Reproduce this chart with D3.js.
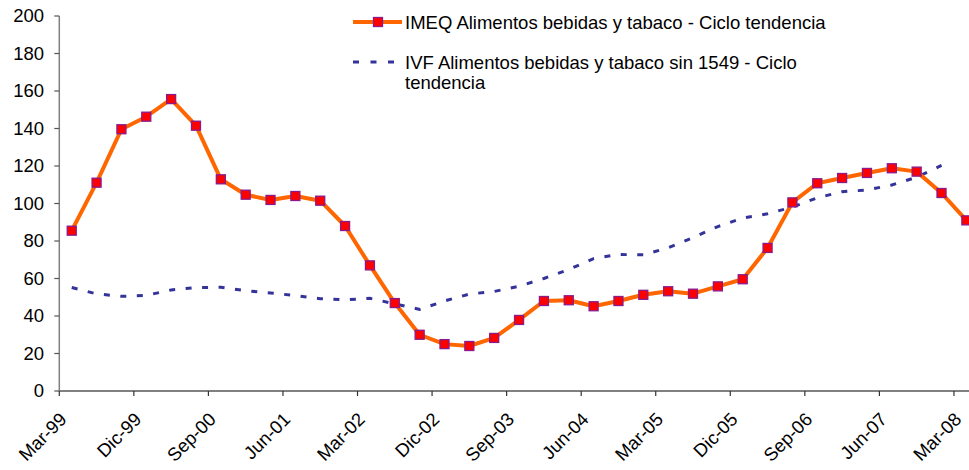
<!DOCTYPE html>
<html>
<head>
<meta charset="utf-8">
<script src="https://cdn.jsdelivr.net/npm/d3@7"></script>
<style>
  body { margin: 0; background: #fff; }
  text { font-family: Arial, "Liberation Sans", sans-serif; fill: #000; }
</style>
</head>
<body>
<div id="chart"></div>
<script>
// quarterly categories, Mar-99 .. Mar-08
const quarters = [
  "Mar-99", "Jun-99", "Sep-99", "Dic-99", "Mar-00", "Jun-00", "Sep-00", "Dic-00",
  "Mar-01", "Jun-01", "Sep-01", "Dic-01", "Mar-02", "Jun-02", "Sep-02", "Dic-02",
  "Mar-03", "Jun-03", "Sep-03", "Dic-03", "Mar-04", "Jun-04", "Sep-04", "Dic-04",
  "Mar-05", "Jun-05", "Sep-05", "Dic-05", "Mar-06", "Jun-06", "Sep-06", "Dic-06",
  "Mar-07", "Jun-07", "Sep-07", "Dic-07", "Mar-08"
];
const imeq = [85.5, 111.1, 139.6, 146.3, 155.7, 141.5, 112.9, 104.7, 101.9, 104, 101.5, 88,
  67, 46.9, 30, 25, 24, 28.3, 37.9, 48, 48.4, 45.2, 48, 51.3, 53.2, 51.9, 55.8, 59.6,
  76.3, 100.6, 110.8, 113.6, 116.3, 118.8, 117, 105.6, 91];
const ivf = [55.2, 51.8, 50.5, 51, 53.9, 55.2, 55.3, 53.5, 52.3, 50.9, 49.2, 48.6,
  49.4, 46.5, 43.5, 48, 51.7, 53.1, 55.9, 60, 64.8, 70.6, 72.8, 72.6, 76.4, 81.8,
  87.7, 92.2, 94.5, 98.1, 103, 106.3, 107.2, 109.9, 114, 120.3];
const yTicks = [0, 20, 40, 60, 80, 100, 120, 140, 160, 180, 200];
const seriesNames = [
  "IMEQ Alimentos bebidas y tabaco - Ciclo tendencia",
  "IVF Alimentos bebidas y tabaco sin 1549 - Ciclo",
  "tendencia"
];

const width = 969, height = 470;
const fontSize = "18.5px";

const svg = d3.select("#chart").append("svg")
  .attr("width", width)
  .attr("height", height);

// plot area runs past the right edge, like the original crop
const x = d3.scaleBand().domain(quarters).range([59.3, 978.8]);
const y = d3.scaleLinear().domain([0, 200]).range([391, 16]);
const cx = (d) => x(d) + x.bandwidth() / 2;

// y axis
svg.append("line")
  .attr("x1", x.range()[0]).attr("x2", x.range()[0])
  .attr("y1", y(200)).attr("y2", y(0))
  .attr("stroke", "#808080").attr("stroke-width", 1.5);
svg.selectAll(".ytick").data(yTicks).join("line")
  .attr("x1", x.range()[0] - 5).attr("x2", x.range()[0])
  .attr("y1", (d) => y(d)).attr("y2", (d) => y(d))
  .attr("stroke", "#555").attr("stroke-width", 1.2);
svg.selectAll(".ylab").data(yTicks).join("text")
  .attr("x", 44)
  .attr("y", (d) => y(d))
  .attr("dy", "0.35em")
  .attr("text-anchor", "end")
  .style("font-size", fontSize)
  .text((d) => d);

// x axis
svg.append("line")
  .attr("x1", x.range()[0]).attr("x2", width)
  .attr("y1", y(0)).attr("y2", y(0))
  .attr("stroke", "#808080").attr("stroke-width", 2);
const labeled = quarters.filter((d, i) => i % 3 === 0);
svg.selectAll(".xtick").data(labeled).join("line")
  .attr("x1", (d) => x(d)).attr("x2", (d) => x(d))
  .attr("y1", y(0)).attr("y2", y(0) + 5)
  .attr("stroke", "#333").attr("stroke-width", 1.2);
svg.selectAll(".xlab").data(labeled).join("text")
  .attr("text-anchor", "end")
  .attr("dy", "0.35em")
  .attr("transform", (d) => `translate(${x(d) + 4},${y(0) + 25}) rotate(-45)`)
  .style("font-size", fontSize)
  .text((d) => d);

// IVF dashed
const lineIvf = d3.line()
  .x((d, i) => cx(quarters[i]))
  .y((d) => y(d));
svg.append("path")
  .datum(ivf)
  .attr("d", lineIvf)
  .attr("fill", "none")
  .attr("stroke", "#333399")
  .attr("stroke-width", 3)
  .attr("stroke-dasharray", "6,10.5");

// IMEQ line + markers
const lineImeq = d3.line()
  .x((d, i) => cx(quarters[i]))
  .y((d) => y(d));
svg.append("path")
  .datum(imeq)
  .attr("d", lineImeq)
  .attr("fill", "none")
  .attr("stroke", "#FF6600")
  .attr("stroke-width", 4)
  .attr("stroke-linejoin", "round");
svg.selectAll(".mk").data(imeq).join("rect")
  .attr("x", (d, i) => cx(quarters[i]) - 4.5)
  .attr("y", (d) => y(d) - 4.5)
  .attr("width", 9).attr("height", 9)
  .attr("fill", "#FF0000")
  .attr("stroke", "#8B1A8B")
  .attr("stroke-width", 1.3);

// legend
const lg = svg.append("g");
lg.append("line")
  .attr("x1", 353).attr("x2", 402).attr("y1", 22).attr("y2", 22)
  .attr("stroke", "#FF6600").attr("stroke-width", 4);
lg.append("rect")
  .attr("x", 373.5).attr("y", 17.5).attr("width", 9).attr("height", 9)
  .attr("fill", "#FF0000").attr("stroke", "#8B1A8B").attr("stroke-width", 1.3);
lg.append("line")
  .attr("x1", 353).attr("x2", 394).attr("y1", 62).attr("y2", 62)
  .attr("stroke", "#333399").attr("stroke-width", 3)
  .attr("stroke-dasharray", "6,11.5");
lg.selectAll(".lt").data(seriesNames).join("text")
  .attr("x", 405)
  .attr("y", (d, i) => [22.7, 62.7, 82.7][i])
  .attr("dy", "0.35em")
  .style("font-size", fontSize)
  .text((d) => d);
</script>
</body>
</html>
